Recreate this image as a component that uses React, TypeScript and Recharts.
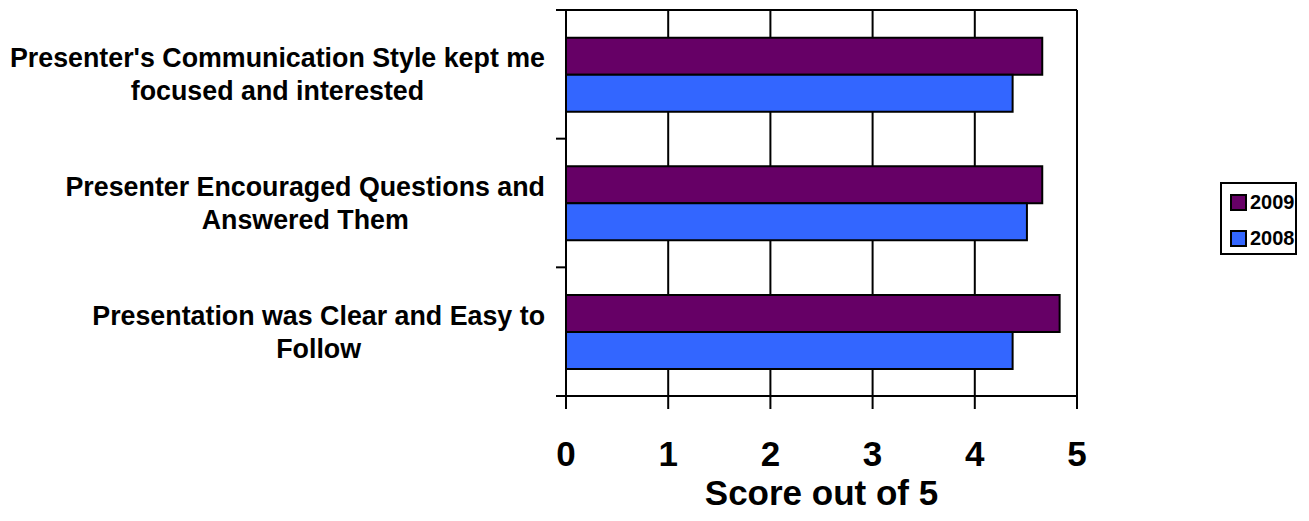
import React from 'react';
import {
  BarChart,
  Bar,
  XAxis,
  YAxis,
  CartesianGrid,
  Legend,
  Label,
} from 'recharts';

const categories = [
  "Presenter's Communication Style kept me focused and interested",
  'Presenter Encouraged Questions and Answered Them',
  'Presentation was Clear and Easy to Follow',
];

// how each category label is wrapped
const categoryLines = [
  ["Presenter's Communication Style kept me", 'focused and interested'],
  ['Presenter Encouraged Questions and', 'Answered Them'],
  ['Presentation was Clear and Easy to', 'Follow'],
];

const scores2009 = [4.66, 4.66, 4.83];
const scores2008 = [4.37, 4.51, 4.37];

const xTicks = [0, 1, 2, 3, 4, 5];

const data = categories.map((name, i) => ({
  name,
  y2009: scores2009[i],
  y2008: scores2008[i],
}));

const FONT = "'Liberation Sans', Arial, sans-serif";
const W = 1309;
const H = 521;
const TOP = 10;
const BOTTOM_AXIS = 125;
const PLOT_H = H - TOP - BOTTOM_AXIS;
const LABEL_SIZE = 26.8;

let measureCtx: CanvasRenderingContext2D | null = null;
const measure = (text: string) => {
  if (!measureCtx) {
    measureCtx = document.createElement('canvas').getContext('2d');
  }
  if (!measureCtx) return text.length * LABEL_SIZE * 0.55;
  measureCtx.font = `bold ${LABEL_SIZE}px ${FONT}`;
  return measureCtx.measureText(text).width;
};

const CategoryTick = ({ x, y, index }: any) => {
  const lines = categoryLines[index] || [];
  const band = PLOT_H / categories.length;
  const right = 545;
  const w = Math.max(...lines.map(measure));
  const cx = right - w / 2;
  const startY = y - ((lines.length - 1) * 33) / 2 + 9.5;
  return (
    <g>
      <line x1={x - 10} x2={x} y1={y - band / 2} y2={y - band / 2} stroke="#000" strokeWidth={2} />
      {index === categories.length - 1 && (
        <line x1={x - 10} x2={x} y1={y + band / 2} y2={y + band / 2} stroke="#000" strokeWidth={2} />
      )}
      {lines.map((t, i) => (
        <text
          key={i}
          x={cx}
          y={startY + i * 33}
          textAnchor="middle"
          fontFamily={FONT}
          fontWeight="bold"
          fontSize={LABEL_SIZE}
          fill="#000"
        >
          {t}
        </text>
      ))}
    </g>
  );
};

const ScoreTick = ({ x, y, payload }: any) => (
  <text
    x={x}
    y={y + 55}
    textAnchor="middle"
    fontFamily={FONT}
    fontWeight="bold"
    fontSize={35}
    fill="#000"
  >
    {payload.value}
  </text>
);

const LegendBox = () => (
  <div
    style={{
      border: '2px solid #000',
      background: '#fff',
      padding: '6px 0 6px 8px',
      fontFamily: FONT,
      fontWeight: 'bold',
      fontSize: 20,
      lineHeight: '24px',
      boxSizing: 'border-box',
      width: 77,
      height: 73,
    }}
  >
    {[
      { name: '2009', color: '#660066' },
      { name: '2008', color: '#3366FF' },
    ].map((item, i) => (
      <div key={item.name} style={{ display: 'flex', alignItems: 'center', marginTop: i ? 12 : 0 }}>
        <span
          style={{
            display: 'inline-block',
            width: 17,
            height: 17,
            background: item.color,
            border: '2px solid #000',
            boxSizing: 'border-box',
            marginRight: 3,
          }}
        />
        {item.name}
      </div>
    ))}
  </div>
);

export default function App() {
  return (
    <div style={{ position: 'absolute', left: 0, top: 0, width: W, height: H, background: '#fff' }}>
      <BarChart
        width={W}
        height={H}
        data={data}
        layout="vertical"
        margin={{ top: TOP, right: 232, bottom: 0, left: 0 }}
        barCategoryGap="21.5%"
        barGap={0}
      >
        <CartesianGrid
          horizontal={true}
          horizontalPoints={[TOP]}
          stroke="#000"
          strokeWidth={2}
        />
        <XAxis
          type="number"
          domain={[0, 5]}
          ticks={xTicks}
          interval={0}
          height={BOTTOM_AXIS}
          tickSize={13}
          axisLine={{ stroke: '#000', strokeWidth: 2 }}
          tickLine={{ stroke: '#000', strokeWidth: 2 }}
          tick={<ScoreTick />}
        >
          <Label
            content={() => (
              <text
                x={821.5}
                y={505}
                textAnchor="middle"
                fontFamily={FONT}
                fontWeight="bold"
                fontSize={35}
                fill="#000"
              >
                Score out of 5
              </text>
            )}
          />
        </XAxis>
        <YAxis
          type="category"
          dataKey="name"
          width={566}
          tickSize={0}
          tickMargin={0}
          tickLine={false}
          interval={0}
          axisLine={{ stroke: '#000', strokeWidth: 2 }}
          tick={<CategoryTick />}
        />
        <Legend
          layout="vertical"
          align="center"
          verticalAlign="middle"
          content={<LegendBox />}
          wrapperStyle={{ left: 1220, top: 182, width: 77 }}
        />
        <Bar dataKey="y2009" name="2009" fill="#660066" stroke="#000" strokeWidth={2} isAnimationActive={false} />
        <Bar dataKey="y2008" name="2008" fill="#3366FF" stroke="#000" strokeWidth={2} isAnimationActive={false} />
      </BarChart>
    </div>
  );
}
